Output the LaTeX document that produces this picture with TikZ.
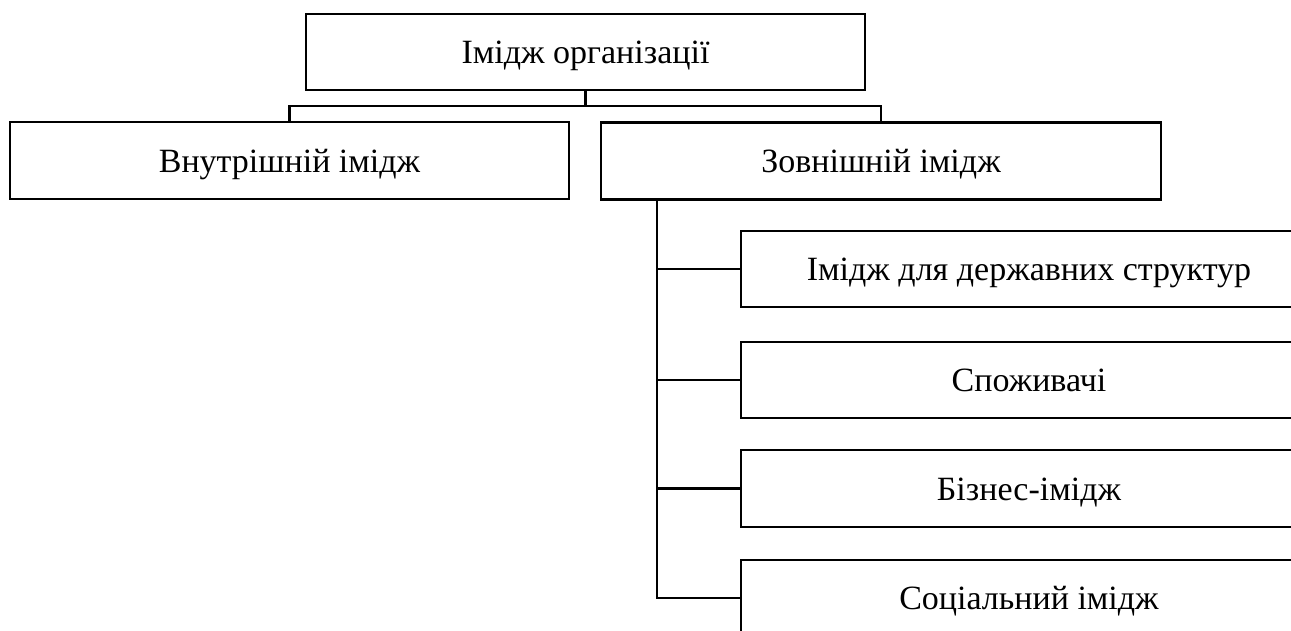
\documentclass[tikz,border=0pt]{standalone}
\usepackage{fontspec}
\setmainfont{Liberation Serif}
\begin{document}
\begin{tikzpicture}[x=1pt,y=-1pt,
  box/.style={draw,line width=2.3pt,rectangle,inner sep=0pt,outer sep=0pt,
    font=\fontsize{34}{40}\selectfont,text height=23.5pt,text depth=0pt},
  conn/.style={line width=2.3pt}]
\useasboundingbox (0,0) rectangle (1291,631);
\clip (0,0) rectangle (1291,631);
\fill[white] (0,0) rectangle (1291,631);
\node[box,minimum width=559pt,minimum height=76pt] (top) at (585.5,52) {Імідж організації};
\node[box,minimum width=559pt,minimum height=77pt] (inner) at (289.5,160.5) {Внутрішній імідж};
\node[box,minimum width=560pt,minimum height=77pt] (outer) at (881,161) {Зовнішній імідж};
\node[box,minimum width=576pt,minimum height=76pt] (s1) at (1029,269) {Імідж для державних структур};
\node[box,minimum width=576pt,minimum height=76pt] (s2) at (1029,380) {Споживачі};
\node[box,minimum width=576pt,minimum height=77pt] (s3) at (1029,488.5) {Бізнес-імідж};
\node[box,minimum width=576pt,minimum height=76pt] (s4) at (1029,598) {Соціальний імідж};
\coordinate (j) at (585.5,106);
\coordinate (bus) at (657,200);
\draw[conn] (top.south) -- (j);
\draw[conn] (inner.north) |- (j) -| (outer.north);
\draw[conn] (outer.south -| bus) -- (bus |- s4.west) -- (s4.west);
\draw[conn] (bus |- s1.west) -- (s1.west);
\draw[conn] (bus |- s2.west) -- (s2.west);
\draw[conn] (bus |- s3.west) -- (s3.west);
\end{tikzpicture}
\end{document}
